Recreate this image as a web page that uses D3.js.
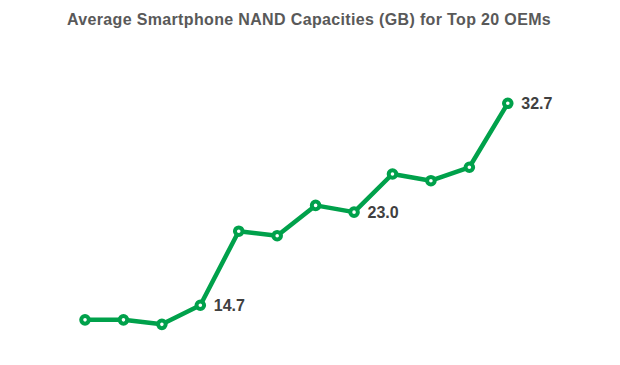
<!DOCTYPE html>
<html>
<head>
<meta charset="utf-8">
<script src="https://cdn.jsdelivr.net/npm/d3@7"></script>
<style>
  body { margin: 0; background: #fff; }
  svg { display: block; }
</style>
</head>
<body>
<div id="chart"></div>
<script>
// Quartale (Achse ist im Original ausgeblendet)
const quarters = ["Q1", "Q2", "Q3", "Q4", "Q5", "Q6", "Q7", "Q8", "Q9", "Q10", "Q11", "Q12"];
// Durchschnittliche NAND-Kapazität in GB
const capacities = [13.4, 13.4, 13.0, 14.7, 21.3, 20.9, 23.6, 23.0, 26.4, 25.8, 27.0, 32.7];
// nur diese Punkte bekommen eine Beschriftung
const labelledQuarters = ["Q4", "Q8", "Q12"];

const data = quarters.map((q, i) => ({ quarter: q, value: capacities[i] }));

const width = 620, height = 365;

const svg = d3.select("#chart")
  .append("svg")
  .attr("width", width)
  .attr("height", height)
  .style("font-family", "'Liberation Sans', Arial, sans-serif");

svg.append("text")
  .text("Average Smartphone NAND Capacities (GB) for Top 20 OEMs")
  .attr("x", 309)
  .attr("y", 25)
  .attr("text-anchor", "middle")
  .attr("fill", "#595959")
  .style("font-weight", "bold")
  .style("font-size", "16px")
  .style("letter-spacing", "0.35px");

// Punkte gleichmäßig verteilt, halber Abstand am Rand
const xScale = d3.scalePoint()
  .domain(quarters)
  .range([65.8, 527])
  .padding(0.5);

const yScale = d3.scaleLinear()
  .domain([10, 35])
  .range([358, 77.5]);

const line = d3.line()
  .x(d => xScale(d.quarter))
  .y(d => yScale(d.value));

svg.append("path")
  .datum(data)
  .attr("d", line)
  .attr("fill", "none")
  .attr("stroke", "#00A14B")
  .attr("stroke-width", 4.5)
  .attr("stroke-linejoin", "round");

svg.selectAll("circle")
  .data(data)
  .join("circle")
  .attr("cx", d => xScale(d.quarter))
  .attr("cy", d => yScale(d.value))
  .attr("r", 3.8)
  .attr("fill", "#fff")
  .attr("stroke", "#00A14B")
  .attr("stroke-width", 4);

svg.selectAll("text.label")
  .data(data.filter(d => labelledQuarters.includes(d.quarter)))
  .join("text")
  .attr("class", "label")
  .text(d => d.value.toFixed(1))
  .attr("x", d => xScale(d.quarter) + 13.5)
  .attr("y", d => yScale(d.value) + 6)
  .attr("fill", "#404040")
  .style("font-weight", "bold")
  .style("font-size", "16px");
</script>
</body>
</html>
